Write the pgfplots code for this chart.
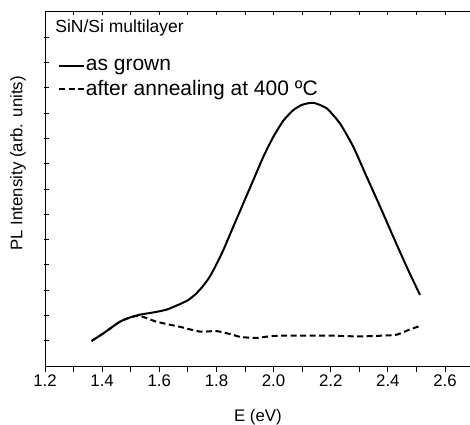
\documentclass[border=0pt]{standalone}
\usepackage{fontspec}
\setmainfont{Liberation Sans}
\usepackage{pgfplots}
\pgfplotsset{compat=1.18}
\begin{document}
\begin{tikzpicture}
\useasboundingbox (-45bp,-59bp) rectangle (425bp,366bp);
\begin{axis}[
  scale only axis,
  width=425bp, height=354bp,
  xmin=1.2, xmax=2.6875, ymin=0, ymax=14,
  axis x line*=top, axis y line=none,
  axis line style={-, line width=1bp},
  xtick={1.2,1.3,...,2.65},
  xticklabels={},
  tick align=inside,
  major tick length=3bp,
  x tick style={line width=0.8bp, black},
]
\end{axis}
\begin{axis}[
  scale only axis,
  width=425bp, height=354bp,
  xmin=1.2, xmax=2.6875, ymin=0, ymax=14,
  axis x line=box, axis y line=left,
  axis line style={-, line width=1bp},
  xtick={1.2,1.4,...,2.6},
  minor xtick={1.3,1.5,...,2.7},
  xticklabels={1.2,1.4,1.6,1.8,2.0,2.2,2.4,2.6},
  ytick={1,2,...,13},
  yticklabels={},
  x tick style={line width=0.8bp, black},
  y tick style={line width=0.8bp, black, xshift=4bp},
  tick align=outside,
  major tick length=5.5bp, minor tick length=5.5bp,
  xtick pos=bottom,
  ticklabel style={font=\fontsize{16.8bp}{19bp}\selectfont},
  /pgf/number format/assume math mode=true,
  xlabel={E (eV)},
  label style={font=\fontsize{16.8bp}{19bp}\selectfont},
  xlabel style={at={(axis description cs:0.501,0)}, anchor=center, yshift=-51bp},
  legend style={draw=none, fill=none, at={(axis description cs:0.024,0.873)}, anchor=north west,
    font=\fontsize{21bp}{23bp}\selectfont, nodes={inner sep=0.5bp}, row sep=7bp,
    /tikz/every even column/.append style={column sep=2bp}},
  legend cell align=left,
  legend image code/.code={\draw[#1] (0bp,0bp) -- (25bp,0bp);},
  clip=false,
]
\addplot[black, line width=2bp, smooth, tension=0.35] coordinates {
(1.363,0.99) (1.404,1.29) (1.462,1.75) (1.498,1.92) (1.532,2.03) (1.58,2.12) (1.626,2.23)
(1.6725,2.45) (1.70,2.6) (1.725,2.82) (1.75,3.12) (1.775,3.5) (1.80,4.02) (1.824,4.58)
(1.859,5.51) (1.894,6.43)
(1.929,7.35) (1.964,8.27) (1.999,9.06) (2.034,9.7) (2.069,10.12) (2.1,10.33)
(2.139,10.41) (2.186,10.19) (2.2325,9.59) (2.279,8.67) (2.326,7.48) (2.373,6.30)
(2.419,5.11) (2.466,3.92) (2.5125,2.81)
};
\addlegendentry{as grown}
\addplot[black, line width=2bp, dash pattern=on 6bp off 3.5bp, smooth, tension=0.4] coordinates {
(1.363,0.99) (1.404,1.29) (1.462,1.75) (1.498,1.92) (1.532,1.98) (1.591,1.75) (1.672,1.55)
(1.743,1.36) (1.801,1.38) (1.859,1.23) (1.883,1.15) (1.941,1.11) (1.999,1.19)
(2.1,1.2) (2.2,1.2) (2.3,1.17) (2.38,1.2) (2.431,1.24) (2.478,1.45) (2.512,1.58)
};
\addlegendentry{after annealing at 400 ºC}
\node[anchor=west, inner sep=0pt, font=\fontsize{17.5bp}{19bp}\selectfont] at (axis description cs:0.024,0.955) {SiN/Si multilayer};
\node[rotate=90, anchor=center, inner sep=0pt, font=\fontsize{16.8bp}{19bp}\selectfont] at ([xshift=-27bp]axis description cs:0,0.573) {PL Intensity (arb. units)};
\end{axis}
\end{tikzpicture}
\end{document}
